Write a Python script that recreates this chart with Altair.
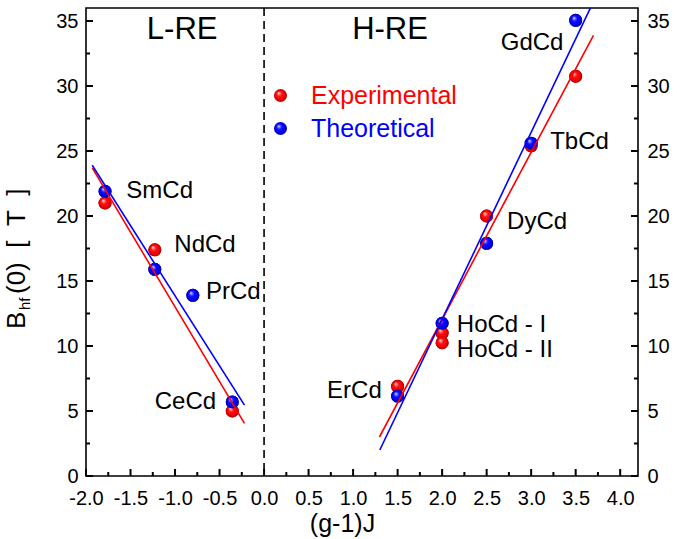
import altair as alt
import pandas as pd

F = "Liberation Sans"
NB = "\u00a0"

# ---------------- data ----------------
series_names = ["Experimental", "Theoretical"]

exp_names = ["SmCd", "NdCd", "CeCd", "GdCd", "TbCd", "DyCd", "HoCd - I", "HoCd - II", "ErCd"]
exp_x = [-1.786, -1.227, -0.357, 3.5, 3.0, 2.5, 2.0, 2.0, 1.5]
exp_y = [21.0, 17.4, 5.0, 30.75, 25.4, 20.0, 11.0, 10.25, 6.9]

theo_names = ["SmCd", "NdCd", "PrCd", "CeCd", "GdCd", "TbCd", "DyCd", "HoCd", "ErCd"]
theo_x = [-1.786, -1.227, -0.8, -0.357, 3.5, 3.0, 2.5, 2.0, 1.5]
theo_y = [21.9, 15.9, 13.9, 5.7, 35.05, 25.6, 17.9, 11.75, 6.15]

fit_series = ["Experimental"] * 4 + ["Theoretical"] * 4
fit_group = ["L", "L", "H", "H", "L", "L", "H", "H"]
fit_x = [-1.93, -0.22, 1.296, 3.70, -1.93, -0.22, 1.30, 3.70]
fit_y = [23.7, 4.05, 3.0, 33.9, 23.9, 5.45, 2.0, 36.5]

label_text = ["SmCd", "NdCd", "PrCd", "TbCd", "DyCd", "HoCd - I", "HoCd - II", "CeCd", "GdCd", "ErCd"]
label_x = [-1.547, -1.008, -0.652, 3.213, 2.73, 2.165, 2.165, -0.539, 3.363, 1.322]
label_y = [21.35, 17.24, 13.58, 25.19, 18.99, 11.05, 9.12, 5.13, 32.74, 5.97]
label_side = ["right"] * 7 + ["left"] * 3

region_text = ["L-RE", "H-RE"]
region_x = [-0.92, 1.415]
region_y = [33.6, 33.6]

x_major_ticks = [-2.0, -1.5, -1.0, -0.5, 0.0, 0.5, 1.0, 1.5, 2.0, 2.5, 3.0, 3.5, 4.0]
x_minor_ticks = [-1.75, -1.25, -0.75, -0.25, 0.25, 0.75, 1.25, 1.75, 2.25, 2.75, 3.25, 3.75]
y_major_ticks = [0, 5, 10, 15, 20, 25, 30, 35]
y_minor_ticks = [2.5, 7.5, 12.5, 17.5, 22.5, 27.5, 32.5]

y_title_parts = ["B", "hf", "(0)" + NB * 2 + "[" + NB * 2 + "T" + NB * 2 + "]"]
x_title = "(g-1)J"

# ---------------- tables ----------------
df_exp = pd.DataFrame({"name": exp_names, "x": exp_x, "y": exp_y, "series": "Experimental"})
df_theo = pd.DataFrame({"name": theo_names, "x": theo_x, "y": theo_y, "series": "Theoretical"})
df_pts = pd.concat([df_exp, df_theo], ignore_index=True)
df_fit = pd.DataFrame({"series": fit_series, "group": fit_group, "x": fit_x, "y": fit_y})
df_lab = pd.DataFrame({"text": label_text, "x": label_x, "y": label_y, "side": label_side})
df_reg = pd.DataFrame({"text": region_text, "x": region_x, "y": region_y})
df_zero = pd.DataFrame({"x": [0.0]})
df_xmaj = pd.DataFrame({"tx": x_major_ticks, "len": "major"})
df_xmin = pd.DataFrame({"tx": x_minor_ticks, "len": "minor"})
df_ymaj = pd.DataFrame({"ty": y_major_ticks, "len": "major"})
df_ymin = pd.DataFrame({"ty": y_minor_ticks, "len": "minor"})

W, H = 552, 468
MAJ, MIN = 7, 4

xs = alt.Scale(domain=[-2.0, 4.2], nice=False, zero=False)
ys = alt.Scale(domain=[0, 36], nice=False, zero=False)


def major_axis(orient, values, pad, fmt, **kw):
    return alt.Axis(
        orient=orient, values=values, labelExpr=fmt, ticks=False,
        labelFont=F, labelFontSize=20, labelColor="black", labelPadding=pad,
        labelFlush=False, labelOverlap=False, labelBound=False,
        domain=False, grid=False, **kw)


xfmt = "replace(format(datum.value, '.1f'), '\u2212', '-')"
yfmt = "format(datum.value, 'd')"

ax_x_major = major_axis(
    "bottom", x_major_ticks, 12, xfmt,
    title=x_title, titleFont=F, titleFontSize=25, titleFontWeight="normal",
    titleColor="black", titleX=256, titleY=55, titleAlign="center",
    titleBaseline="alphabetic")
ax_y_left = major_axis("left", y_major_ticks, 8, yfmt, title=None)
ax_y_right = major_axis("right", y_major_ticks, 9, yfmt, title=None)


def sphere(c_hi, c_mid, c_main, c_edge):
    return {
        "gradient": "radial", "x1": 0.35, "y1": 0.3, "r1": 0.0,
        "x2": 0.5, "y2": 0.5, "r2": 0.5,
        "stops": [
            {"offset": 0.0, "color": "#ffffff"},
            {"offset": 0.15, "color": c_hi},
            {"offset": 0.4, "color": c_mid},
            {"offset": 0.8, "color": c_main},
            {"offset": 1.0, "color": c_edge},
        ],
    }


def sphere_expr(g):
    stops = ", ".join("{offset: %s, color: '%s'}" % (s["offset"], s["color"]) for s in g["stops"])
    return ("{gradient: 'radial', x1: %s, y1: %s, r1: %s, x2: %s, y2: %s, r2: %s, stops: [%s]}"
            % (g["x1"], g["y1"], g["r1"], g["x2"], g["y2"], g["r2"], stops))


red_sphere = sphere("#ff9090", "#ff1010", "#ee0000", "#a00000")
blue_sphere = sphere("#9090ff", "#1010ff", "#0000ee", "#00009a")

legend = alt.Legend(
    orient="none", legendX=182, legendY=75, title=None, padding=0,
    symbolType="circle", symbolSize=170, symbolOpacity=1, symbolStrokeWidth=0,
    labelFont=F, labelFontSize=25, labelOffset=18, rowPadding=7, labelLimit=300,
    labelColor=alt.ExprRef(expr="datum.label == 'Experimental' ? '#ff0000' : '#0000ff'"))

base_pts = alt.Chart(df_pts).mark_circle(size=170, opacity=1, strokeWidth=0).encode(
    x=alt.X("x:Q", scale=xs, axis=ax_x_major),
    y=alt.Y("y:Q", scale=ys, axis=ax_y_left),
    color=alt.Color("series:N", scale=alt.Scale(
        domain=series_names,
        range=[alt.ExprRef(expr=sphere_expr(red_sphere)), alt.ExprRef(expr=sphere_expr(blue_sphere))]),
        legend=legend),
)

red_pts = alt.Chart(df_exp).mark_circle(size=170, opacity=1, fill=red_sphere, strokeWidth=0).encode(
    x=alt.X("x:Q", scale=xs, axis=None),
    y=alt.Y("y:Q", scale=ys, axis=None),
)

blue_pts = alt.Chart(df_theo).mark_circle(size=170, opacity=1, fill=blue_sphere, strokeWidth=0).encode(
    x=alt.X("x:Q", scale=xs, axis=None),
    y=alt.Y("y:Q", scale=ys, axis=ax_y_right),
)

red_fit = alt.Chart(df_fit[df_fit.series == "Experimental"]).mark_line(
    color="#ff0000", strokeWidth=1.6, clip=True).encode(
    x=alt.X("x:Q", scale=xs, axis=None),
    y=alt.Y("y:Q", scale=ys, axis=None),
    detail="group:N",
)

blue_fit = alt.Chart(df_fit[df_fit.series == "Theoretical"]).mark_line(
    color="#0000ff", strokeWidth=1.6, clip=True).encode(
    x=alt.X("x:Q", scale=xs, axis=None),
    y=alt.Y("y:Q", scale=ys, axis=None),
    detail="group:N",
)

zero_rule = alt.Chart(df_zero).mark_rule(color="black", strokeWidth=1.6, strokeDash=[8, 5]).encode(
    x=alt.X("x:Q", scale=xs, axis=None),
)


# inward tick marks at the tick values (shifted by half their length so they point inwards)
def xticks(df, length):
    return alt.Chart(df).mark_tick(
        color="black", thickness=2, size=length, orient="vertical", opacity=1,
        yOffset=-length / 2).encode(
        x=alt.X("tx:Q", scale=xs, axis=None),
        y=alt.value(H))


def yticks(df, length, side):
    return alt.Chart(df).mark_tick(
        color="black", thickness=2, size=length, orient="horizontal", opacity=1,
        xOffset=(length / 2 if side == "left" else -length / 2)).encode(
        y=alt.Y("ty:Q", scale=ys, axis=None),
        x=alt.value(0 if side == "left" else W))


tick_layers = [
    xticks(df_xmaj, MAJ), xticks(df_xmin, MIN),
    yticks(df_ymaj, MAJ, "left"), yticks(df_ymin, MIN, "left"),
    yticks(df_ymaj, MAJ, "right"), yticks(df_ymin, MIN, "right"),
]

lab_right = alt.Chart(df_lab[df_lab.side == "right"]).mark_text(
    align="left", baseline="alphabetic", font=F, fontSize=24, color="black").encode(
    x=alt.X("x:Q", scale=xs, axis=None), y=alt.Y("y:Q", scale=ys, axis=None), text="text:N")

lab_left = alt.Chart(df_lab[df_lab.side == "left"]).mark_text(
    align="right", baseline="alphabetic", font=F, fontSize=24, color="black").encode(
    x=alt.X("x:Q", scale=xs, axis=None), y=alt.Y("y:Q", scale=ys, axis=None), text="text:N")

regions = alt.Chart(df_reg).mark_text(
    align="center", baseline="alphabetic", font=F, fontSize=31, color="black").encode(
    x=alt.X("x:Q", scale=xs, axis=None), y=alt.Y("y:Q", scale=ys, axis=None), text="text:N")

yt_b = alt.Chart(pd.DataFrame({"t": [y_title_parts[0]]})).mark_text(
    angle=270, align="left", baseline="alphabetic", font=F, fontSize=26, color="black").encode(
    x=alt.value(-61), y=alt.value(321), text="t:N")
yt_hf = alt.Chart(pd.DataFrame({"t": [y_title_parts[1]]})).mark_text(
    angle=270, align="left", baseline="alphabetic", font=F, fontSize=15, color="black").encode(
    x=alt.value(-56), y=alt.value(302), text="t:N")
yt_rest = alt.Chart(pd.DataFrame({"t": [y_title_parts[2]]})).mark_text(
    angle=270, align="left", baseline="alphabetic", font=F, fontSize=26, color="black").encode(
    x=alt.value(-61), y=alt.value(286), text="t:N")

chart = alt.layer(
    base_pts, red_pts, blue_pts, red_fit, blue_fit, zero_rule,
    lab_right, lab_left, regions, yt_b, yt_hf, yt_rest, *tick_layers,
).resolve_scale(x="independent", y="independent").properties(
    width=W, height=H,
    padding={"left": 86, "top": 8, "right": 61, "bottom": 63},
    autosize=alt.AutoSizeParams(type="none"),
    background="white",
).configure_view(stroke="black", strokeWidth=1.6)

chart.save("out.html", embed_options={"renderer": "svg", "actions": False})
